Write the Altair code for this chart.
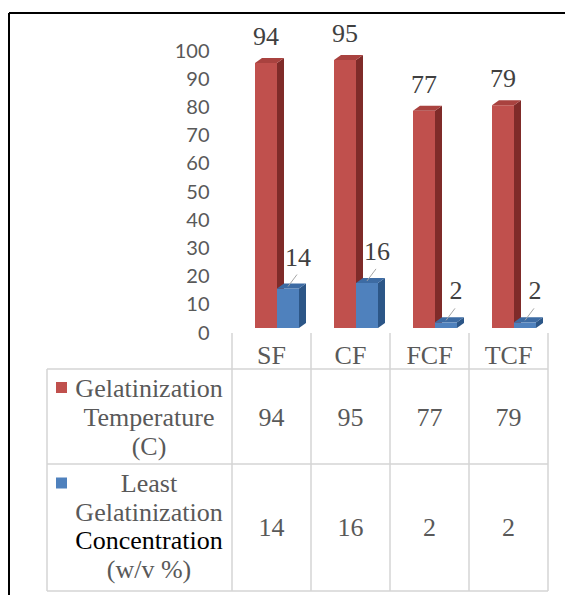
import altair as alt
import pandas as pd

# ---- data -------------------------------------------------------------
categories = ["SF", "CF", "FCF", "TCF"]
gel_temp = [94, 95, 77, 79]          # Gelatinization Temperature (C)
least_conc = [14, 16, 2, 2]          # Least Gelatinization Concentration (w/v %)
y_ticks = [0, 10, 20, 30, 40, 50, 60, 70, 80, 90, 100]

# ---- layout (pixels) --------------------------------------------------
PAGE_W, PAGE_H = 565, 595
LEFT = 232            # page x where the first category column starts
COL_W = 79            # width of one category column
N = len(categories)
PLOT_W = COL_W * N
Y0_PX, Y100_PX = 328, 46
PX_PER_UNIT = (Y0_PX - Y100_PX) / 100.0
BAR_LEFT_PX = 23      # gap from column edge to first bar
BAR_W_PX = 22
DEPTH_PX = 7          # 3-D depth of the bar boxes
RISE_PX = 5

d_units = DEPTH_PX / COL_W
r_units = RISE_PX / PX_PER_UNIT

SERIF = "Liberation Serif"
GRAY = "#595959"
GRID = "#D4D4D4"

palette = {
    0: {"front": "#C0504D", "side": "#7F2B29", "top": "#A9423F"},
    1: {"front": "#4F81BD", "side": "#2C5687", "top": "#3D6BA3"},
}

# ---- derived tables ---------------------------------------------------
bar_rows, side_rows, top_rows = [], [], []
for s, vals in enumerate([gel_temp, least_conc]):
    for i, v in enumerate(vals):
        x0 = i + (BAR_LEFT_PX + s * BAR_W_PX) / COL_W
        x1 = x0 + BAR_W_PX / COL_W
        bid = f"{s}-{i}"
        bar_rows.append({"s": s, "cat": categories[i], "v": v, "x0": x0, "x1": x1,
                         "xc": (x0 + x1) / 2, "base": 0})
        for px, top, bot in [(x1, v, 0), (x1 + d_units, v + r_units, r_units)]:
            side_rows.append({"s": s, "id": bid, "px": px, "top": top, "bot": bot})
        for px, top, bot in [(x0, v, v), (x0 + d_units, v + r_units, v),
                             (x1, v + r_units, v), (x1 + d_units, v + r_units, v + r_units)]:
            top_rows.append({"s": s, "id": bid, "px": px, "top": top, "bot": bot})

bars = pd.DataFrame(bar_rows)
sides = pd.DataFrame(side_rows)
tops = pd.DataFrame(top_rows)

table = pd.DataFrame({
    "cat": categories,
    "xc": [i + 0.5 for i in range(N)],
    "t": [str(v) for v in gel_temp],
    "c": [str(v) for v in least_conc],
})
col_edges = pd.DataFrame({"xe": list(range(N + 1))})
one = pd.DataFrame({"k": [0]})

x_scale = alt.Scale(domain=[0, N], range=[0, PLOT_W], nice=False, zero=False)
y_scale = alt.Scale(domain=[0, 100], range=[Y0_PX, Y100_PX], nice=False, zero=False)
y_axis = alt.Axis(values=y_ticks, labelFont="Lato", labelFontSize=20, labelColor=GRAY,
                  ticks=False, domain=False, grid=False, labelPadding=23,
                  labelOffset=5, title=None)


def X(field):
    return alt.X(field, type="quantitative", scale=x_scale, axis=None)


def Y(field):
    return alt.Y(field, type="quantitative", scale=y_scale, axis=y_axis)


layers = []

# 3-D bars: per series draw front, side, top so blue boxes sit over red sides
for s in (0, 1):
    front = alt.Chart(bars).transform_filter(f"datum.s == {s}").mark_rect(
        color=palette[s]["front"]).encode(
        x=X("x0"), x2="x1", y=Y("v"), y2="base")
    side = alt.Chart(sides).transform_filter(f"datum.s == {s}").mark_area(
        color=palette[s]["side"]).encode(
        x=X("px"), y=alt.Y("top:Q", scale=y_scale, axis=y_axis, stack=None),
        y2="bot", detail="id:N")
    top = alt.Chart(tops).transform_filter(f"datum.s == {s}").mark_area(
        color=palette[s]["top"]).encode(
        x=X("px"), y=alt.Y("top:Q", scale=y_scale, axis=y_axis, stack=None),
        y2="bot", detail="id:N")
    layers += [front, side, top]

# value labels
red_labels = alt.Chart(bars).transform_filter("datum.s == 0").mark_text(
    font=SERIF, fontSize=26, color="#404040", dy=-26, baseline="middle").encode(
    x=X("xc"), y=Y("v"), text="v:Q")
blue_leaders = alt.Chart(bars).transform_filter("datum.s == 1").mark_rule(
    color="#A6A6A6", strokeWidth=1, yOffset=-2, x2Offset=9, y2Offset=-14).encode(
    x=X("xc"), x2="xc", y=Y("v"), y2="v")
blue_labels = alt.Chart(bars).transform_filter("datum.s == 1").mark_text(
    font=SERIF, fontSize=26, color="#404040", dx=10, dy=-31, baseline="middle").encode(
    x=X("xc"), y=Y("v"), text="v:Q")
layers += [red_labels, blue_leaders, blue_labels]

# ---- data table under the plot -----------------------------------------
TAB_L = 47 - LEFT
TAB_R = PLOT_W
HDR_TOP, ROW1_TOP, ROW2_TOP, TAB_BOT = 333, 369, 464, 591

vlines = alt.Chart(col_edges).mark_rule(color=GRID, strokeWidth=1.5).encode(
    x=X("xe"), y=alt.value(HDR_TOP), y2=alt.value(TAB_BOT))
left_edge = alt.Chart(one).mark_rule(color=GRID, strokeWidth=1.5).encode(
    x=alt.value(TAB_L), y=alt.value(ROW1_TOP), y2=alt.value(TAB_BOT))
hlines = [
    alt.Chart(one).mark_rule(color=GRID, strokeWidth=1.5).encode(
        x=alt.value(TAB_L), x2=alt.value(TAB_R), y=alt.value(yy))
    for yy in (ROW1_TOP, ROW2_TOP, TAB_BOT)
]
layers += [vlines, left_edge] + hlines

cell_text = dict(font=SERIF, fontSize=26, color=GRAY, baseline="middle", align="center")
hdr = alt.Chart(table).mark_text(**cell_text).encode(
    x=X("xc"), y=alt.value(356), text="cat:N")
row1 = alt.Chart(table).mark_text(**cell_text).encode(
    x=X("xc"), y=alt.value(418), text="t:N")
row2 = alt.Chart(table).mark_text(**cell_text).encode(
    x=X("xc"), y=alt.value(528), text="c:N")
layers += [hdr, row1, row2]

# legend cells: colour key plus the series name, one text mark per line
LEG_X = 149 - LEFT
KEY_X = 61.5 - LEFT
key_red = alt.Chart(one).mark_square(size=121, color=palette[0]["front"], opacity=1).encode(
    x=alt.value(KEY_X), y=alt.value(387.5))
key_blue = alt.Chart(one).mark_square(size=121, color=palette[1]["front"], opacity=1).encode(
    x=alt.value(KEY_X), y=alt.value(483))
layers += [key_red, key_blue]

legend_lines = [
    ("Gelatinization", 389, GRAY),
    ("Temperature", 418, GRAY),
    ("(C)", 447, GRAY),
    ("Least", 484, GRAY),
    ("Gelatinization", 513, GRAY),
    ("Concentration", 541, "#000000"),
    ("(w/v %)", 570, GRAY),
]
for txt, yy, colr in legend_lines:
    layers.append(
        alt.Chart(one).mark_text(font=SERIF, fontSize=26, baseline="middle",
                                 align="center", color=colr).encode(
            x=alt.value(LEG_X), y=alt.value(yy), text=alt.value(txt))
    )

# outer frame (top and left edges)
FRAME_X = 9 - LEFT
frame_top = alt.Chart(one).mark_rule(color="#000000", strokeWidth=2).encode(
    x=alt.value(FRAME_X), x2=alt.value(PAGE_W - LEFT), y=alt.value(13))
frame_left = alt.Chart(one).mark_rule(color="#000000", strokeWidth=2).encode(
    x=alt.value(FRAME_X), y=alt.value(13), y2=alt.value(PAGE_H))
layers += [frame_top, frame_left]

chart = alt.layer(*layers).properties(
    width=PLOT_W,
    height=PAGE_H,
    autosize="none",
    padding={"left": LEFT, "right": PAGE_W - LEFT - PLOT_W, "top": 0, "bottom": 0},
    background="white",
).configure_view(stroke=None)

chart.save("out.html", embed_options={"renderer": "svg", "actions": False})
